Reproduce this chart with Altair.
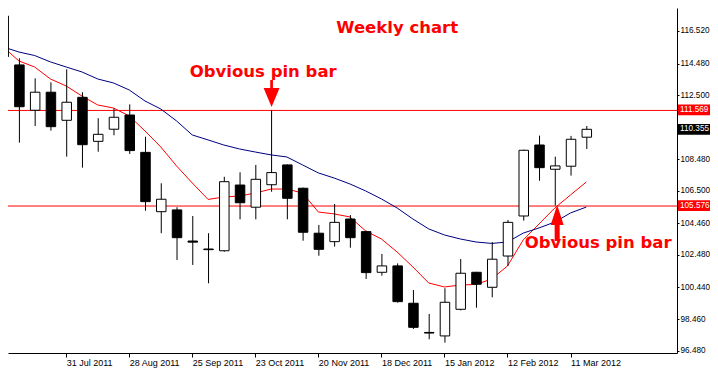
import altair as alt
import pandas as pd

# ---- data (weekly candles, 3 Jul 2011 .. 18 Mar 2012) ----
week_start = "2011-07-03"
n_weeks = 38
open_ = [117.46, 114.39, 111.55, 112.68, 110.92, 112.36, 109.60, 110.36, 111.25, 108.91,
         105.19, 105.30, 103.35, 102.85, 102.74, 106.86, 105.47, 106.88, 108.12, 106.66,
         103.84, 103.31, 104.73, 103.94, 101.39, 101.79, 99.45, 97.62, 97.40, 99.07,
         101.39, 100.45, 102.41, 104.92, 109.37, 107.85, 108.04, 109.86]
close = [114.91, 111.77, 112.68, 110.52, 112.05, 109.39, 110.04, 111.11, 109.02, 105.82,
         105.97, 103.56, 103.28, 102.81, 107.07, 105.75, 107.22, 107.64, 106.03, 103.90,
         102.83, 104.52, 103.56, 101.37, 101.79, 99.55, 97.94, 97.58, 99.51, 101.33,
         100.64, 102.21, 104.52, 109.04, 107.95, 108.06, 109.73, 110.355]
high = [117.80, 114.81, 113.55, 113.30, 114.12, 112.68, 111.05, 111.67, 111.92, 109.89,
        106.97, 105.47, 104.92, 103.84, 107.38, 107.66, 108.12, 111.569, 108.15, 106.70,
        104.36, 105.67, 104.98, 104.00, 102.54, 101.95, 100.28, 98.78, 100.39, 102.22,
        101.42, 103.29, 104.67, 109.08, 109.96, 108.64, 109.94, 110.56]
low = [114.60, 109.52, 110.56, 110.27, 108.64, 107.95, 108.95, 109.98, 108.81, 105.25,
       103.84, 102.16, 101.85, 100.70, 102.68, 104.71, 104.71, 106.44, 104.71, 103.37,
       102.43, 103.00, 102.93, 100.97, 101.18, 99.49, 97.84, 97.19, 96.98, 99.00,
       99.17, 99.82, 101.79, 104.63, 107.13, 105.576, 107.45, 109.12]
ma_red = [115.52, 114.64, 114.26, 113.51, 113.07, 112.44, 111.88, 111.69, 111.19, 110.25,
          109.25, 108.06, 106.99, 105.96, 106.11, 106.17, 106.36, 106.61, 106.61, 106.36,
          105.17, 105.05, 104.86, 103.98, 103.48, 102.66, 101.72, 100.72, 100.47, 100.59,
          100.63, 100.97, 101.79, 103.42, 104.42, 105.42, 106.24, 107.05]
ma_blue = [115.52, 115.20, 114.98, 114.58, 114.26, 113.95, 113.51, 113.26, 112.82, 112.13,
           111.63, 110.88, 110.00, 109.69, 109.37, 109.12, 108.93, 108.75, 108.62, 108.12,
           107.62, 107.30, 106.93, 106.49, 105.99, 105.42, 104.73, 104.11, 103.73, 103.48,
           103.29, 103.20, 103.29, 103.85, 104.17, 104.54, 105.11, 105.48]

# x-axis tick labels (week index -> label)
tick_weeks = [0, 4, 8, 12, 16, 20, 24, 28, 32, 36]
tick_labels = ["3 Jul 2011", "31 Jul 2011", "28 Aug 2011", "25 Sep 2011", "23 Oct 2011",
               "20 Nov 2011", "18 Dec 2011", "15 Jan 2012", "12 Feb 2012", "11 Mar 2012"]
# y-axis tick values
y_ticks = [116.52, 114.48, 112.50, 108.48, 106.50, 104.46, 102.48, 100.44, 98.46, 96.48]

# horizontal levels and price tags
level_values = [111.569, 105.576]
tag_values = [111.569, 110.355, 105.576]
tag_colors = ["#ff0000", "#000000", "#ff0000"]

# annotations
ann_text = ["Weekly chart", "Obvious pin bar", "Obvious pin bar"]
ann_week = [25.0, 16.5, 37.75]
ann_price = [116.69, 113.97, 103.21]
arrow_week = [17.0, 35.12]
arrow_price = [112.60, 104.48]
arrow_dir = ["down", "up"]

# ---- tables ----
dates = pd.date_range(week_start, periods=n_weeks, freq="7D")
df = pd.DataFrame({
    "w": list(range(n_weeks)),
    "date": dates.strftime("%Y-%m-%d"),
    "open": open_, "close": close, "high": high, "low": low,
    "ma_red": ma_red, "ma_blue": ma_blue,
})
df["bull"] = df["close"] >= df["open"]

levels = pd.DataFrame({"p": level_values})
tags = pd.DataFrame({"p": tag_values, "c": tag_colors,
                     "t": [f"{v:.3f}" for v in tag_values]})
ann = pd.DataFrame({"t": ann_text, "w": ann_week, "p": ann_price})
arrows = pd.DataFrame({"w": arrow_week, "p": arrow_price, "d": arrow_dir})

W, H = 669, 345
xdom = [0.625, 42.4375]
ydom = [96.33, 117.96]

label_expr = "".join(f"datum.value == {w} ? '{l}' : " for w, l in zip(tick_weeks, tick_labels)) + "''"

FONT = "Liberation Sans"
YFS = 8.2

xs = alt.Scale(domain=xdom, nice=False, zero=False)
ys = alt.Scale(domain=ydom, nice=False, zero=False)

x_axis = alt.Axis(values=tick_weeks, labelExpr=label_expr, labelAlign="left",
                  labelBaseline="top", tickSize=4, labelPadding=1, labelFontSize=9,
                  labelFont=FONT, labelColor="black", domainColor="black",
                  tickColor="black", grid=False, title=None, labelOverlap=False,
                  labelFlush=False)
y_axis = alt.Axis(orient="right", values=y_ticks, format=".3f", tickSize=2,
                  labelPadding=1, labelFontSize=YFS, labelFont=FONT, labelColor="black",
                  domainColor="black", tickColor="black", grid=False, title=None,
                  labelOverlap=False, labelFlush=False)


def X(f):
    return alt.X(f, scale=xs, axis=x_axis)


def Y(f):
    return alt.Y(f, scale=ys, axis=y_axis)


base = alt.Chart(df)

wicks = base.mark_rule(color="black", strokeWidth=1, clip=True, xOffset=0.5).encode(
    x=X("w:Q"), y=Y("low:Q"), y2="high:Q")
bodies = base.mark_bar(size=9.5, stroke="black", strokeWidth=1, clip=True, xOffset=0.5).encode(
    x=X("w:Q"), y=Y("open:Q"), y2="close:Q",
    fill=alt.condition("datum.bull", alt.value("white"), alt.value("black")),
)
red_line = base.mark_line(color="#ff0000", strokeWidth=1, clip=True).encode(
    x=X("w:Q"), y=Y("ma_red:Q"))
blue_line = base.mark_line(color="#000080", strokeWidth=1, clip=True).encode(
    x=X("w:Q"), y=Y("ma_blue:Q"))

hlines = alt.Chart(levels).mark_rule(color="#ff0000", strokeWidth=1, clip=True, yOffset=0.5).encode(
    y=Y("p:Q"))

tag_shape = "M-1,-0.27L1,-0.27L1,0.27L-1,0.27Z"
tag_boxes = alt.Chart(tags).mark_point(shape=tag_shape, size=1600, filled=True,
                                       opacity=1, strokeWidth=0).encode(
    x=alt.value(690), y=Y("p:Q"), color=alt.Color("c:N", scale=None))
tag_text = alt.Chart(tags).mark_text(align="left", baseline="middle", font=FONT,
                                     fontSize=YFS, color="white").encode(
    x=alt.value(672), y=Y("p:Q"), text="t:N")

ann_layer = alt.Chart(ann).mark_text(align="center", baseline="middle", font="DejaVu Sans",
                                     fontWeight="bold", fontSize=16.5, color="#ff0000").encode(
    x=X("w:Q"), y=Y("p:Q"), text="t:N")

down_path = "M0,1L0.59,-0.41L0.1,-0.41L0.1,-1L-0.1,-1L-0.1,-0.41L-0.59,-0.41Z"
up_path = "M0,-1L0.36,0.11L0.14,0.11L0.14,1L-0.14,1L-0.14,0.11L-0.36,0.11Z"
arrow_down = alt.Chart(arrows).transform_filter("datum.d == 'down'").mark_point(
    shape=down_path, size=729, filled=True, color="#ff0000", opacity=1, strokeWidth=0,
    xOffset=0.5).encode(x=X("w:Q"), y=Y("p:Q"))
arrow_up = alt.Chart(arrows).transform_filter("datum.d == 'up'").mark_point(
    shape=up_path, size=1296, filled=True, color="#ff0000", opacity=1, strokeWidth=0,
    xOffset=0.5).encode(x=X("w:Q"), y=Y("p:Q"))

chart = alt.layer(
    hlines, red_line, blue_line, wicks, bodies, arrow_down, arrow_up,
    ann_layer, tag_boxes, tag_text,
).properties(
    width=W, height=H,
    padding={"left": 0, "top": 0, "right": 33, "bottom": 17},
    autosize=alt.AutoSizeParams(type="none"),
    background="white",
).configure_view(stroke=None, strokeWidth=0).configure_axis(labelOverlap=False)

chart.save("out.html", embed_options={"renderer": "svg", "actions": False})
